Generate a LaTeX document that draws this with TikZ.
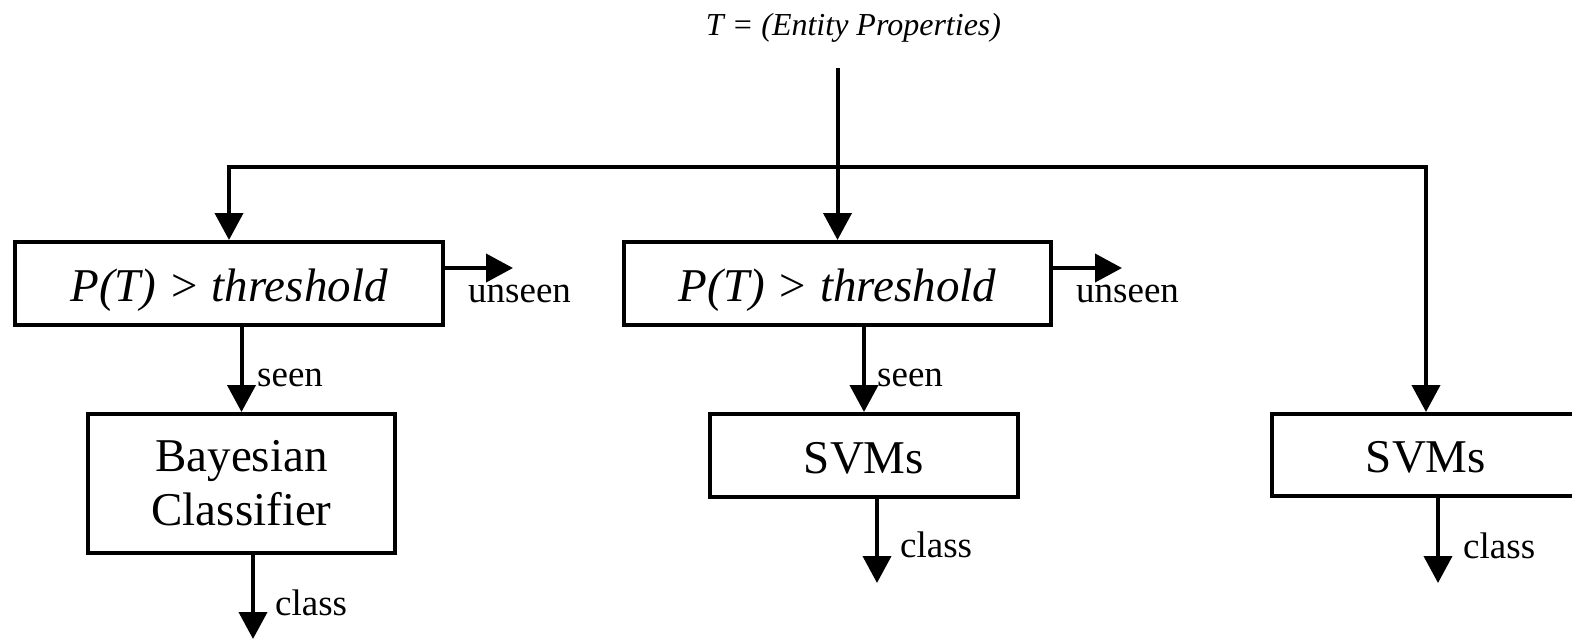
\documentclass[tikz,border=0pt]{standalone}
\usepackage{fontspec}
\setmainfont{Liberation Serif}
\usetikzlibrary{arrows.meta}
\tikzset{
 box/.style={draw, line width=4pt, inner sep=0pt, font=\fontsize{47}{54}\selectfont, text height=35pt, text depth=0pt, align=center},
 link/.style={line width=4pt, -{Triangle[width=28pt,length=27pt]}},
 lbl/.style={anchor=base west, inner sep=0pt, font=\fontsize{37}{40}\selectfont},
}
\begin{document}
\begin{tikzpicture}[x=1pt,y=-1pt]
\clip (0,0) rectangle (1572,641);
\useasboundingbox (0,0) rectangle (1572,641);
\node[anchor=base, inner sep=0pt, font=\fontsize{32}{36}\selectfont\itshape] (title) at (853.5,35) {T = (Entity Properties)};
\node[box, minimum width=428pt, minimum height=83pt] (p1) at (229,283.5) {\itshape P(T) > threshold};
\node[box, minimum width=427pt, minimum height=83pt] (p2) at (837.5,283.5) {\itshape P(T) > threshold};
\node[box, text height=, text depth=, minimum width=307pt, minimum height=139pt] (bayes) at (241.5,483.5) {Bayesian\\Classifier};
\node[box, minimum width=308pt, minimum height=83pt] (svm2) at (864,455.5) {SVMs};
\node[box, minimum width=308pt, minimum height=82pt] (svm3) at (1426,455) {SVMs};
\coordinate (src) at (837.5,68);
\coordinate (j) at (837.5,167);
\coordinate (u1) at (513,268);
\coordinate (u2) at (1122,268);
\coordinate (c1) at (253,639);
\coordinate (c2) at (877,583);
\coordinate (c3) at (1438,583);
\draw[link] (src) -- (p2.north);
\draw[link] (j) -| (p1.north);
\draw[link] (j) -| (svm3.north);
\draw[link] (p1.south -| bayes.north) -- (bayes.north);
\draw[link] (p2.south -| svm2.north) -- (svm2.north);
\draw[link] (p1.east |- u1) -- (u1);
\draw[link] (p2.east |- u2) -- (u2);
\draw[link] (bayes.south -| c1) -- (c1);
\draw[link] (svm2.south -| c2) -- (c2);
\draw[link] (svm3.south -| c3) -- (c3);
\node[lbl] (seen1) at (257,386) {seen};
\node[lbl] (seen2) at (877,386) {seen};
\node[lbl] (un1) at (468,302) {unseen};
\node[lbl] (un2) at (1076,302) {unseen};
\node[lbl] (cl1) at (275,615) {class};
\node[lbl] (cl2) at (900,557) {class};
\node[lbl] (cl3) at (1463,558) {class};
\end{tikzpicture}
\end{document}
